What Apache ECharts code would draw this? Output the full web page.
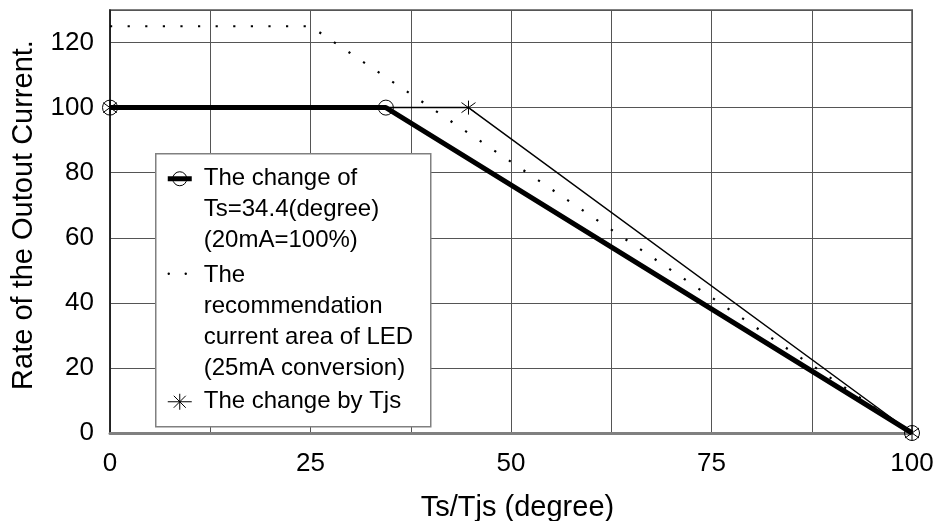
<!DOCTYPE html>
<html>
<head>
<meta charset="utf-8">
<script src="https://cdn.jsdelivr.net/npm/echarts@6/dist/echarts.min.js"></script>
<style>html,body{margin:0;padding:0;background:#fff}#c{width:939px;height:521px}</style>
</head>
<body>
<div id="c"></div>
<script>
// ---- data ----
var tsX = [0, 34.4, 100];
var tsY = [100, 100, 0];
var recX = [0, 25, 100];
var recY = [125, 125, 0];
var tjsX = [0, 44.7, 100];
var tjsY = [100, 100, 0];
var xTickLabels = [0, 25, 50, 75, 100];
var yTickLabels = [0, 20, 40, 60, 80, 100, 120];
var seriesNames = [
  'The change of\nTs=34.4(degree)\n(20mA=100%)',
  'The\nrecommendation\ncurrent area of LED\n(25mA conversion)',
  'The change by Tjs'
];
var xName = 'Ts/Tjs (degree)';
var yName = 'Rate of the Outout Current.';

function pairs(xs, ys) { return xs.map(function (x, i) { return [x, ys[i]]; }); }

var FONT = 'Liberation Sans, Arial, sans-serif';
var starPath = 'path://M7 0L7 14M2 2L12 12M12 2L2 12';

var chart = echarts.init(document.getElementById('c'));
var LX = 155, LY = 153, ZL = 100;
chart.setOption({
  animation: false,
  backgroundColor: '#fff',
  grid: {
    left: 110, top: 10, right: 27, bottom: 88, containLabel: false, outerBoundsMode: 'none',
    show: true, borderColor: '#808080', borderWidth: 2, backgroundColor: 'transparent'
  },
  xAxis: {
    type: 'value', min: 0, max: 100, interval: 12.5,
    name: xName, nameLocation: 'middle', nameGap: 60,
    nameTextStyle: { fontFamily: FONT, fontSize: 29, color: '#000', padding: [0, 0, 0, 13] },
    axisLine: { show: true, lineStyle: { color: '#808080', width: 3 } },
    axisTick: { show: false },
    axisLabel: {
      fontFamily: FONT, fontSize: 26, color: '#000', margin: 18,
      formatter: function (v) { return xTickLabels.indexOf(v) >= 0 ? String(v) : ''; }
    },
    splitLine: { show: true, lineStyle: { color: '#555', width: 1 } }
  },
  yAxis: {
    type: 'value', min: 0, max: 130, interval: 20,
    name: yName, nameLocation: 'middle', nameGap: 72,
    nameTextStyle: { fontFamily: FONT, fontSize: 29, color: '#000', padding: [0, 0, 0, 13] },
    axisLine: { show: true, lineStyle: { color: '#111', width: 1.5 } },
    axisTick: { show: false },
    axisLabel: {
      fontFamily: FONT, fontSize: 26, color: '#000', margin: 16, showMaxLabel: false,
      formatter: function (v) { return yTickLabels.indexOf(v) >= 0 ? String(v) : ''; }
    },
    splitLine: { show: true, lineStyle: { color: '#555', width: 1 } }
  },
  series: [
    {
      name: seriesNames[1], type: 'line', data: pairs(recX, recY),
      symbol: 'none', lineStyle: { color: '#000', width: 2.2, type: [2.2, 15.4] }, z: 3
    },
    {
      name: seriesNames[2], type: 'line', data: pairs(tjsX, tjsY),
      symbol: starPath, symbolSize: 14, clip: false,
      itemStyle: { color: 'none', borderColor: '#000', borderWidth: 1 },
      lineStyle: { color: '#000', width: 1.5 }, z: 4
    },
    {
      name: seriesNames[0], type: 'line', data: pairs(tsX, tsY),
      symbol: 'circle', symbolSize: 15, clip: false,
      itemStyle: { color: 'rgba(0,0,0,0)', borderColor: '#000', borderWidth: 1 },
      lineStyle: { color: '#000', width: 5 }, z: 5
    }
  ],
  graphic: [{
    type: 'group', left: LX, top: LY, z: ZL,
    children: [
      { type: 'rect', z: ZL, shape: { x: 0, y: 0, width: 275, height: 273 }, style: { fill: '#ffffff', stroke: '#808080', lineWidth: 1.5 } },
      // item 1 icon
      { type: 'line', z: ZL + 1, shape: { x1: 12, y1: 25, x2: 36, y2: 25 }, style: { stroke: '#000', lineWidth: 5 } },
      { type: 'circle', z: ZL + 1, shape: { cx: 24, cy: 25, r: 7 }, style: { fill: 'none', stroke: '#000', lineWidth: 1 } },
      { type: 'text', z: ZL + 1, x: 48, y: 9.5, style: { text: seriesNames[0], fontFamily: FONT, fontSize: 24, lineHeight: 31, fill: '#000', verticalAlign: 'top' } },
      // item 2 icon
      { type: 'circle', z: ZL + 1, shape: { cx: 13, cy: 120, r: 1.2 }, style: { fill: '#000' } },
      { type: 'circle', z: ZL + 1, shape: { cx: 30, cy: 120, r: 1.2 }, style: { fill: '#000' } },
      { type: 'text', z: ZL + 1, x: 48, y: 106, style: { text: seriesNames[1], fontFamily: FONT, fontSize: 24, lineHeight: 31, fill: '#000', verticalAlign: 'top' } },
      // item 3 icon
      { type: 'line', z: ZL + 1, shape: { x1: 12, y1: 248, x2: 36, y2: 248 }, style: { stroke: '#000', lineWidth: 1 } },
      { type: 'line', z: ZL + 1, shape: { x1: 24, y1: 240, x2: 24, y2: 256 }, style: { stroke: '#000', lineWidth: 1 } },
      { type: 'line', z: ZL + 1, shape: { x1: 18, y1: 242, x2: 30, y2: 254 }, style: { stroke: '#000', lineWidth: 1 } },
      { type: 'line', z: ZL + 1, shape: { x1: 30, y1: 242, x2: 18, y2: 254 }, style: { stroke: '#000', lineWidth: 1 } },
      { type: 'text', z: ZL + 1, x: 48, y: 232.5, style: { text: seriesNames[2], fontFamily: FONT, fontSize: 24, lineHeight: 31, fill: '#000', verticalAlign: 'top' } }
    ]
  }]
});
</script>
</body>
</html>
